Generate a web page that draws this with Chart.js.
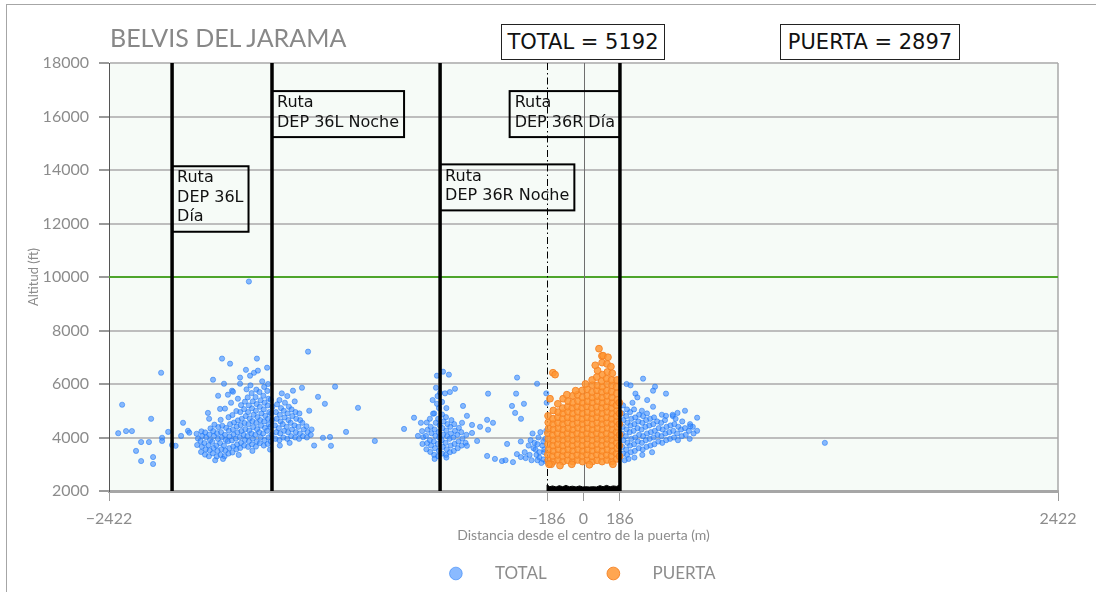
<!DOCTYPE html>
<html>
<head>
<meta charset="utf-8">
<script src="https://cdn.jsdelivr.net/npm/chart.js@4.4.0/dist/chart.umd.min.js"></script>
<style>
html, body { margin: 0; padding: 0; background: #fff; }
#wrap { position: relative; width: 1096px; height: 592px; overflow: hidden; }
#frame { position: absolute; left: 6px; top: 4px; width: 1200px; height: 700px; border: 1px solid #a6a6a6; }
#chart { position: absolute; left: 0; top: 0; }
#title { position: absolute; left: 110px; top: 22px; font: 25px Lato, sans-serif; color: #888; }
.count { position: absolute; top: 24px; height: 34px; border: 1.5px solid #222; font: 21px "DejaVu Sans", sans-serif; line-height: 34px; text-align: center; color: #111; background: #fff; }
</style>
</head>
<body>
<div id="wrap">
  <div id="frame"></div>
  <canvas id="chart" width="1096" height="592"></canvas>
  <div id="title">BELVIS DEL JARAMA</div>
  <div class="count" id="totalBox" style="left:501px;width:162px"></div>
  <div class="count" id="puertaBox" style="left:780px;width:178px"></div>
</div>
<script>
// counts shown in the header boxes
const totalCount = 5192
const puertaCount = 2897

// axis ranges and tick labels
const xTickValues = [-2422, -186, 0, 186, 2422]
const xTickLabels = ['\u22122422', '\u2212186', '0', '186', '2422']
const yMin = 2000, yMax = 18000, yStep = 2000

// route lines (m) and reference lines
const routeLines = [-2100, -1590, -732, 186]
const gateEdge = -186
const ceilingFt = 10000

// route labels: anchor x (m), top y (ft), which side of the anchor
const routeLabels = [
  { x: -2100, y: 14140, side: 'right', lines: ['Ruta', 'DEP 36L', 'Día'] },
  { x: -1590, y: 16950, side: 'right', lines: ['Ruta', 'DEP 36L Noche'] },
  { x: -732, y: 14210, side: 'right', lines: ['Ruta', 'DEP 36R Noche'] },
  { x: 186, y: 16950, side: 'left', lines: ['Ruta', 'DEP 36R Día'] }
]

// gate ground profile (black band at the bottom)
const gateProfile = [[-186,2000],[-186,2230],[-172,2160],[-158,2190],[-140,2150],[-124,2200],[-106,2160],[-90,2210],[-72,2160],[-56,2180],[-38,2150],[-20,2190],[-4,2150],[12,2160],[30,2150],[48,2160],[66,2150],[84,2200],[100,2160],[118,2210],[136,2160],[152,2190],[170,2170],[186,2240],[186,2000]]

// TOTAL tracks: [distance m, altitude ft]
const totalWestSpread = [[-2355,5225],[-2156,6420],[-2375,4160],[-2335,4240],[-2305,4240],[-2207,4700],[-2258,3830],[-2218,3830],[-2284,3500],[-2197,3270],[-2258,3120],[-2197,3010],[-2151,3990],[-2151,3870],[-2120,4210],[-2100,3720],[-2082,3690],[-2044,4550],[-2019,4250],[-2012,4180],[-2054,4060],[-1708,9830]]

const totalWest = [
 [-1972,3720],[-1968,3960],[-1975,4140],
 [-1952,3460],[-1948,3660],[-1955,3870],[-1946,4060],[-1950,4230],
 [-1932,3360],[-1928,3560],[-1935,3790],[-1926,4010],[-1931,4190],
 [-1912,3300],[-1908,3520],[-1914,3710],[-1906,3900],[-1910,4110],[-1904,4340],
 [-1892,3410],[-1888,3610],[-1895,3840],[-1886,4060],[-1890,4240],[-1884,4480],
 [-1872,3290],[-1868,3500],[-1874,3700],[-1866,3950],[-1870,4160],[-1864,4390],
 [-1852,3350],[-1848,3560],[-1855,3790],[-1846,4010],[-1850,4200],[-1844,4440],[-1852,4660],
 [-1832,3300],[-1828,3510],[-1835,3700],[-1826,3910],[-1830,4100],[-1824,4360],
 [-1812,3400],[-1808,3600],[-1815,3860],[-1806,4040],[-1810,4260],[-1804,4500],[-1812,4760],
 [-1792,3440],[-1788,3660],[-1795,3890],[-1786,4110],[-1790,4300],[-1784,4560],[-1792,4840],
 [-1772,3560],[-1768,3740],[-1775,3960],[-1766,4190],[-1770,4410],[-1764,4640],[-1772,4990],
 [-1752,3610],[-1748,3800],[-1755,4010],[-1746,4240],[-1750,4460],[-1744,4700],[-1752,4950],[-1748,5210],
 [-1732,3700],[-1728,3910],[-1735,4100],[-1726,4310],[-1730,4540],[-1724,4800],[-1732,5060],[-1728,5340],
 [-1712,3650],[-1708,3860],[-1715,4050],[-1706,4260],[-1710,4500],[-1704,4710],[-1712,4950],[-1708,5200],[-1714,5500],
 [-1692,3740],[-1688,3960],[-1695,4150],[-1686,4390],[-1690,4610],[-1684,4850],[-1692,5090],[-1688,5350],[-1694,5660],
 [-1672,3660],[-1668,3850],[-1675,4100],[-1666,4310],[-1670,4550],[-1664,4760],[-1672,5000],[-1668,5250],[-1674,5510],[-1670,5790],
 [-1652,3790],[-1648,4010],[-1655,4200],[-1646,4440],[-1650,4650],[-1644,4900],[-1652,5150],[-1648,5390],[-1654,5700],
 [-1632,3700],[-1628,3900],[-1635,4150],[-1626,4360],[-1630,4600],[-1624,4810],[-1632,5050],[-1628,5300],[-1634,5560],[-1630,5890],
 [-1612,3760],[-1608,4000],[-1615,4250],[-1606,4490],[-1610,4700],[-1604,4950],[-1612,5200],[-1608,5450],[-1614,5740],
 [-1596,3850],[-1592,4100],[-1598,4400],[-1590,4650],[-1594,4900],[-1588,5150],[-1596,5410],
 [-1572,3950],[-1568,4200],[-1575,4450],[-1566,4700],[-1570,4950],[-1564,5240],
 [-1552,3900],[-1548,4150],[-1555,4350],[-1546,4600],[-1550,4850],[-1544,5100],[-1552,5400],
 [-1532,4000],[-1528,4250],[-1535,4500],[-1526,4750],[-1530,5000],[-1524,5300],
 [-1512,3950],[-1508,4200],[-1515,4400],[-1506,4650],[-1510,4900],[-1504,5150],[-1512,5550],
 [-1492,4050],[-1488,4300],[-1495,4550],[-1486,4800],[-1490,5050],
 [-1472,4000],[-1468,4200],[-1475,4450],[-1466,4700],[-1470,4950],[-1474,5350],
 [-1452,3950],[-1448,4150],[-1455,4400],[-1446,4650],[-1450,4900],
 [-1432,4050],[-1428,4300],[-1435,4550],
 [-1412,4000],[-1408,4200],[-1414,4420],
 [-1392,4100],[-1388,4300]
]

const totalWestTail = [[-1845,6950],[-1804,6760],[-1667,6950],[-1615,6610],[-1406,7210],[-1891,6160],[-1723,6530],[-1702,6310],[-1682,6420],[-1662,6500],[-1753,6240],[-1753,6010],[-1835,6010],[-1794,5750],[-1865,5560],[-1815,5600],[-1789,5710],[-1799,5300],[-1764,5450],[-1917,4920],[-1911,4700],[-1855,5070],[-1830,5080],[-1268,5900],[-1355,5520],[-1320,5260],[-1151,5110],[-1400,5000],[-1437,5860],[-1483,5750],[-1212,4210],[-1065,3870],[-1289,3690],[-1294,4020],[-1330,3990],[-1375,3700],[-1720,5800],[-1700,5950],[-1640,6100],[-1610,6000],[-1760,3350],[-1880,3150],[-1840,3200],[-1690,3500],[-1600,3550],[-1550,3700],[-1500,3800],[-1540,5650]]

const totalMid = [
 [-822,3760],[-818,4010],[-824,4240],
 [-802,3560],[-798,3790],[-804,4060],[-796,4290],[-800,4560],
 [-782,3460],[-778,3700],[-784,3900],[-776,4160],[-780,4400],[-784,4700],
 [-762,3350],[-758,3600],[-764,3850],[-756,4060],[-760,4300],[-754,4550],[-762,4900],
 [-742,3300],[-738,3500],[-744,3760],[-736,4000],[-740,4200],[-734,4460],[-742,4700],[-738,5100],
 [-722,3400],[-718,3650],[-724,3900],[-716,4100],[-720,4350],[-714,4600],[-722,4860],
 [-702,3350],[-698,3560],[-704,3800],[-696,4050],[-700,4260],[-694,4500],[-702,4760],
 [-682,3450],[-678,3700],[-684,3950],[-676,4150],[-680,4400],[-674,4650],
 [-662,3500],[-658,3760],[-664,4000],[-656,4250],[-660,4500],
 [-642,3600],[-638,3850],[-644,4100],[-636,4360],
 [-622,3700],[-618,3960],[-624,4200],
 [-602,3800],[-598,4100],
 [-748,6310],[-717,6460],[-687,6350],[-753,5860],[-732,5670],[-707,5650],[-682,5700],[-656,5820],[-748,5260],[-722,5330],[-700,5100],[-615,5180],[-768,4890],[-865,4740],[-830,4550],[-916,4320],[-845,4060],[-595,4810],[-620,4550],[-569,4470],[-528,4400],[-569,4170],[-543,3870],[-595,3690],[-492,4660],[-462,4550],[-487,4290],[-487,5640],[-760,3200],[-700,3250],[-770,5400],[-745,5550]
]

const totalGateWest = [[-339,6240],[-237,6010],[-344,5640],[-365,5180],[-304,5260],[-349,4920],[-319,4700],[-390,3760],[-492,3310],[-452,3200],[-416,3120],[-398,3150],[-360,3080],[-320,3270],[-295,3230],[-340,3380],[-300,3450],[-320,3850],[-270,3900],[-280,3700],[-255,3600],[-240,3350],[-225,3250],[-205,3180],[-200,3450],[-210,3700],[-195,3950],[-220,4200],[-190,4250],[-260,4150],[-230,4000],[-250,3800],[-200,3550],[-215,3050],[-190,3100],[-188,5300],[-190,5650],[-275,3350],[-235,3150],[-265,3150],[-245,3550],[-225,3450],[-205,3850],[-235,3750]]

const totalEast = [
 [202,3400],[198,3650],[204,3900],[196,4150],[200,4400],[204,4650],[198,4900],[202,5200],
 [222,3350],[218,3550],[224,3800],[216,4050],[220,4300],[224,4550],[218,4800],[222,5050],
 [242,3450],[238,3700],[244,3950],[236,4200],[240,4450],[244,4700],[238,4950],
 [262,3500],[258,3750],[264,4000],[256,4250],[260,4500],[264,4750],[258,5050],
 [282,3600],[278,3850],[284,4100],[276,4350],[280,4600],[284,4850],
 [302,3550],[298,3800],[304,4050],[296,4300],[300,4550],[304,4800],[298,5000],
 [322,3650],[318,3900],[324,4150],[316,4400],[320,4650],[324,4900],
 [342,3700],[338,3950],[344,4200],[336,4450],[340,4700],
 [362,3750],[358,4000],[364,4250],[356,4500],[360,4750],
 [382,3850],[378,4100],[384,4350],[376,4600],
 [402,3800],[398,4050],[404,4300],[396,4550],[400,4850],
 [422,3900],[418,4150],[424,4400],[416,4650],
 [442,3950],[438,4200],[444,4450],
 [462,4000],[458,4250],[464,4500],[456,4800],
 [482,3900],[478,4150],[484,4400],
 [502,4050],[498,4300],[504,4600],
 [522,4100],[518,4350],
 [542,3950],[538,4250],[544,4500],
 [562,4150],[558,4400],
 [304,6200],[220,6000],[240,5950],[365,5900],[355,5750],[421,5640],[265,5640],[275,5500],[325,5400],[250,5300],[355,5150],[518,5000],[480,4920],[455,4850],[421,4810],[580,4740],[470,4700],[545,4420],[580,4250],[230,3200],[260,3250],[210,3150],[300,3350],[350,3450]
]

const totalFar = [[1232,3800]]

// PUERTA tracks (inside the gate)
const puerta = [
 [-180,3160],[-182,3360],[-178,3550],[-181,3760],[-179,3950],[-182,4160],[-178,4340],[-180,4560],[-181,4810],
 [-155,3100],[-157,3310],[-153,3500],[-156,3700],[-154,3910],[-157,4100],[-153,4300],[-155,4510],[-156,4700],[-154,5010],
 [-130,3160],[-132,3350],[-128,3560],[-131,3750],[-129,3950],[-132,4160],[-128,4350],[-130,4550],[-131,4760],[-129,4950],[-131,5260],
 [-105,3100],[-107,3310],[-103,3500],[-106,3700],[-104,3910],[-107,4100],[-103,4300],[-105,4510],[-106,4700],[-104,4910],[-106,5100],[-104,5450],
 [-80,3150],[-82,3360],[-78,3550],[-81,3760],[-79,3950],[-82,4160],[-78,4350],[-80,4560],[-81,4750],[-79,4960],[-81,5150],[-79,5360],
 [-55,3100],[-57,3300],[-53,3510],[-56,3700],[-54,3900],[-57,4110],[-53,4300],[-55,4500],[-56,4710],[-54,4900],[-57,5110],[-53,5300],[-55,5560],
 [-30,3160],[-32,3350],[-28,3550],[-31,3760],[-29,3950],[-32,4150],[-28,4360],[-30,4550],[-31,4750],[-29,4960],[-32,5150],[-28,5360],[-30,5600],
 [-5,3100],[-7,3310],[-3,3500],[-6,3700],[-4,3910],[-7,4100],[-3,4300],[-5,4510],[-6,4700],[-4,4900],[-7,5110],[-3,5300],[-5,5500],[-6,5760],
 [20,3150],[18,3360],[22,3550],[19,3750],[21,3960],[18,4150],[22,4350],[20,4560],[19,4750],[21,4950],[18,5160],[22,5350],[20,5560],[19,5800],
 [45,3100],[43,3300],[47,3510],[44,3700],[46,3900],[43,4110],[47,4300],[45,4500],[44,4710],[46,4900],[43,5100],[47,5310],[45,5500],[44,5700],[46,5960],[44,6150],
 [70,3150],[68,3360],[72,3550],[69,3760],[71,3950],[68,4160],[72,4350],[70,4550],[69,4760],[71,4950],[68,5150],[72,5360],[70,5550],[69,5760],[71,5950],[68,6260],[72,6500],
 [95,3100],[93,3310],[97,3500],[94,3700],[96,3910],[93,4100],[97,4300],[95,4510],[94,4700],[96,4900],[93,5110],[97,5300],[95,5500],[94,5710],[96,5900],[93,6110],[97,6350],[95,6800],[94,7050],
 [120,3160],[118,3350],[122,3550],[119,3760],[121,3950],[118,4150],[122,4360],[120,4550],[119,4750],[121,4960],[118,5150],[122,5350],[120,5560],[119,5750],[121,6000],[118,6200],[122,6450],[120,6750],
 [145,3100],[143,3310],[147,3500],[144,3700],[146,3910],[143,4100],[147,4300],[145,4510],[144,4700],[146,4900],[143,5110],[147,5300],[145,5500],[144,5710],[146,5950],[143,6150],[147,6400],
 [170,3200],[168,3400],[172,3600],[169,3800],[171,4000],[168,4200],[172,4400],[170,4600],[169,4800],[171,5000],[168,5200],[172,5400],[170,5650],[169,5900],[171,6150],
 [184,3300],[183,3700],[184,4100],[183,4500],[184,4900],[183,5300],
 [79,7320],[100,7060],[125,7000],[-156,6420],[-145,6350],[-171,5450],[-165,3000],[-120,2950],[-60,3000],[30,2980],[150,3000],[-176,3000],[-85,5600],[-40,5750],[10,6000],[60,6700],[140,6650]
]

document.getElementById('totalBox').textContent = 'TOTAL = ' + totalCount
document.getElementById('puertaBox').textContent = 'PUERTA = ' + puertaCount

const toXY = arr => arr.map(([x, y]) => ({ x: x, y: y }))
const totalPoints = [].concat(totalWestSpread, totalWest, totalWestTail, totalMid, totalGateWest, totalEast, totalFar)

const grey = '#8c8c8c'

const overlay = {
  id: 'overlay',
  afterLayout(chart) {
    // centre the legend row under the gate centre, as in the original figure
    const lg = chart.legend
    const shift = chart.scales.x.getPixelForValue(0) - (lg.left + lg.right) / 2
    lg.left += shift
    lg.right += shift
  },
  beforeDraw(chart) {
    const { ctx, chartArea: a } = chart
    ctx.save()
    ctx.fillStyle = '#f6fbf7'
    ctx.fillRect(a.left, a.top, a.width, a.height)
    ctx.restore()
  },
  beforeDatasetsDraw(chart) {
    const { ctx, chartArea: a, scales: { x, y } } = chart
    ctx.save()
    // right frame of the plot
    ctx.strokeStyle = '#a8a8a8'
    ctx.lineWidth = 1.5
    ctx.beginPath(); ctx.moveTo(a.right, a.top); ctx.lineTo(a.right, a.bottom); ctx.stroke()
    // 10000 ft line
    const yc = y.getPixelForValue(ceilingFt)
    ctx.strokeStyle = '#4ea52c'
    ctx.lineWidth = 2
    ctx.beginPath(); ctx.moveTo(a.left, yc); ctx.lineTo(a.right, yc); ctx.stroke()
    // centre of the gate
    const x0 = Math.round(x.getPixelForValue(0)) + 0.5
    ctx.strokeStyle = '#6e6e6e'
    ctx.lineWidth = 1
    ctx.beginPath(); ctx.moveTo(x0, a.top); ctx.lineTo(x0, a.bottom); ctx.stroke()
    // west edge of the gate, dash-dot
    const xe = Math.round(x.getPixelForValue(gateEdge)) + 0.5
    ctx.strokeStyle = '#000'
    ctx.setLineDash([7, 3, 1.5, 3])
    ctx.beginPath(); ctx.moveTo(xe, a.top); ctx.lineTo(xe, a.bottom); ctx.stroke()
    ctx.restore()
  },
  afterDatasetsDraw(chart) {
    const { ctx, chartArea: a, scales: { x, y } } = chart
    ctx.save()
    ctx.strokeStyle = '#000'
    ctx.lineWidth = 3.5
    routeLines.forEach(v => {
      const px = x.getPixelForValue(v)
      ctx.beginPath(); ctx.moveTo(px, a.top); ctx.lineTo(px, a.bottom); ctx.stroke()
    })
    ctx.font = '16px "DejaVu Sans"'
    ctx.textBaseline = 'top'
    ctx.lineWidth = 2
    const lh = 19.5
    routeLabels.forEach(lab => {
      const w = Math.max(...lab.lines.map(t => ctx.measureText(t).width)) + 10
      const h = lab.lines.length * lh + 7
      const px = x.getPixelForValue(lab.x)
      const left = lab.side === 'right' ? px : px - w
      const top = y.getPixelForValue(lab.y)
      ctx.strokeRect(left, top, w, h)
      ctx.fillStyle = '#111'
      lab.lines.forEach((t, i) => ctx.fillText(t, left + 5, top + 4 + i * lh))
    })
    ctx.restore()
  }
}

new Chart(document.getElementById('chart'), {
  type: 'scatter',
  data: {
    datasets: [
      {
        label: 'TOTAL',
        data: toXY(totalPoints),
        order: 2,
        pointRadius: 2.6,
        backgroundColor: 'rgba(60,140,255,0.6)',
        borderColor: 'rgba(25,115,245,0.65)',
        borderWidth: 0.8
      },
      {
        label: 'PUERTA',
        data: toXY(puerta),
        order: 1,
        pointRadius: 3.4,
        backgroundColor: 'rgba(255,150,50,0.85)',
        borderColor: 'rgba(245,130,35,0.9)',
        borderWidth: 1
      },
      {
        type: 'line',
        label: 'gate',
        data: toXY(gateProfile),
        order: 0,
        borderColor: '#000',
        backgroundColor: '#000',
        borderWidth: 1,
        pointRadius: 0,
        fill: { value: yMin },
        tension: 0
      }
    ]
  },
  options: {
    responsive: false,
    animation: false,
    layout: { padding: { left: 22, right: 38, top: 63, bottom: 0 } },
    plugins: {
      tooltip: { enabled: false },
      legend: {
        position: 'bottom',
        labels: {
          filter: item => item.datasetIndex < 2,
          sort: (a, b) => a.datasetIndex - b.datasetIndex,
          generateLabels: chart => {
            const items = Chart.defaults.plugins.legend.labels.generateLabels(chart)
            items.forEach(it => { it.text = '      ' + it.text + (it.datasetIndex === 0 ? '            ' : '') })
            return items
          },
          usePointStyle: true,
          pointStyle: 'circle',
          boxHeight: 9,
          boxWidth: 9,
          padding: 10,
          color: grey,
          font: { family: 'Lato', size: 17 }
        }
      }
    },
    scales: {
      x: {
        type: 'linear',
        min: xTickValues[0],
        max: xTickValues[xTickValues.length - 1],
        afterBuildTicks: axis => { axis.ticks = xTickValues.map(v => ({ value: v })) },
        afterFit: axis => { axis.height = 64 },
        ticks: {
          autoSkip: false,
          maxRotation: 0,
          padding: 8,
          color: grey,
          font: { family: 'Lato', size: 16 },
          callback: v => xTickLabels[xTickValues.indexOf(v)]
        },
        grid: { drawOnChartArea: false, tickLength: 10, color: '#9a9a9a' },
        border: { color: '#a6a6a6', width: 3 },
        title: { display: true, text: 'Distancia desde el centro de la puerta (m)', color: grey, font: { family: 'Lato', size: 14 }, padding: { top: 2, bottom: 11 } }
      },
      y: {
        min: yMin,
        max: yMax,
        afterFit: axis => { axis.width = 87 },
        ticks: { stepSize: yStep, padding: 10, color: grey, font: { family: 'Lato', size: 16 }, callback: v => String(v) },
        grid: { color: '#bdbdbd', lineWidth: 2, tickLength: 10, tickColor: '#9a9a9a' },
        border: { color: '#555', width: 1 },
        title: { display: true, text: 'Altitud (ft)', color: grey, font: { family: 'Lato', size: 13 }, padding: 4 }
      }
    }
  },
  plugins: [overlay]
})
</script>
</body>
</html>
